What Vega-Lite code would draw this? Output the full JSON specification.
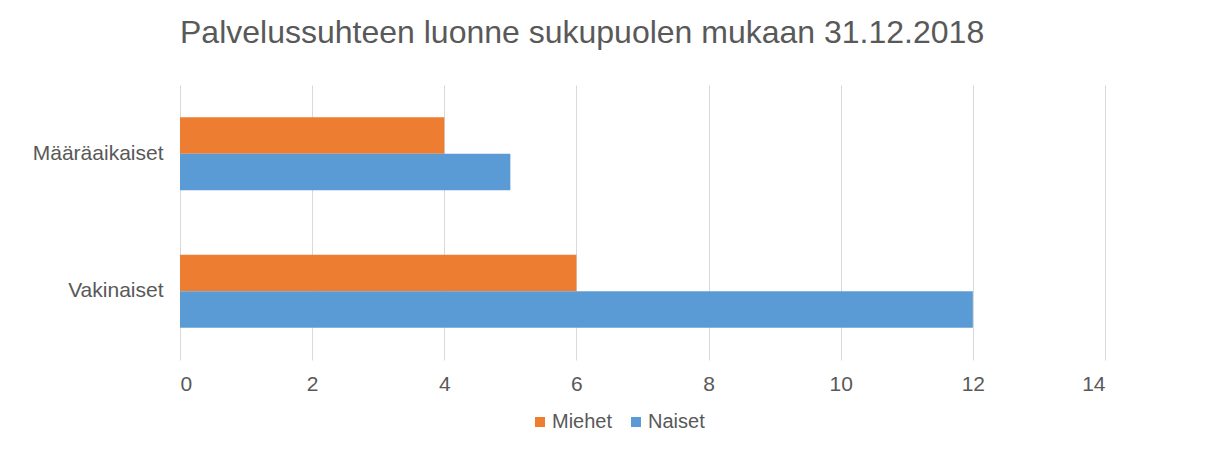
{
  "$schema": "https://vega.github.io/schema/vega-lite/v6.json",
  "width": 925,
  "height": 275,
  "autosize": "none",
  "padding": {"left": 180, "top": 85, "right": 127, "bottom": 90},
  "background": "white",
  "title": {
    "text": "Palvelussuhteen luonne sukupuolen mukaan 31.12.2018",
    "anchor": "start",
    "frame": "group",
    "fontSize": 32,
    "font": "Liberation Sans",
    "fontWeight": "normal",
    "color": "#595959",
    "offset": 35
  },
  "data": {
    "values": [
      {"luonne": "Määräaikaiset", "sukupuoli": "Miehet", "lkm": 4},
      {"luonne": "Määräaikaiset", "sukupuoli": "Naiset", "lkm": 5},
      {"luonne": "Vakinaiset", "sukupuoli": "Miehet", "lkm": 6},
      {"luonne": "Vakinaiset", "sukupuoli": "Naiset", "lkm": 12}
    ]
  },
  "mark": {"type": "bar"},
  "encoding": {
    "y": {
      "field": "luonne",
      "type": "nominal",
      "sort": ["Määräaikaiset", "Vakinaiset"],
      "scale": {"paddingInner": 0.47, "paddingOuter": 0.235},
      "axis": {
        "title": null,
        "ticks": false,
        "domain": false,
        "labelPadding": 17,
        "labelFontSize": 21,
        "labelFont": "Liberation Sans",
        "labelColor": "#595959"
      }
    },
    "yOffset": {
      "field": "sukupuoli",
      "type": "nominal",
      "sort": ["Miehet", "Naiset"],
      "scale": {"paddingInner": 0, "paddingOuter": 0}
    },
    "x": {
      "field": "lkm",
      "type": "quantitative",
      "scale": {"domain": [0, 14], "nice": false},
      "axis": {
        "title": null,
        "values": [0, 2, 4, 6, 8, 10, 12, 14],
        "ticks": false,
        "domain": false,
        "grid": true,
        "gridColor": "#d9d9d9",
        "gridWidth": 1,
        "labelPadding": 13,
        "labelFontSize": 21,
        "labelFont": "Liberation Sans",
        "labelColor": "#595959"
      }
    },
    "color": {
      "field": "sukupuoli",
      "type": "nominal",
      "scale": {"domain": ["Miehet", "Naiset"], "range": ["#ED7D31", "#5B9BD5"]},
      "legend": {
        "title": null,
        "orient": "none",
        "direction": "horizontal",
        "legendX": 350,
        "legendY": 327,
        "symbolType": "square",
        "symbolSize": 100,
        "symbolStrokeWidth": 0,
        "labelFontSize": 20,
        "labelFont": "Liberation Sans",
        "labelColor": "#595959",
        "labelOffset": 2,
        "columnPadding": 13,
        "padding": 0
      }
    }
  },
  "config": {"view": {"stroke": null}}
}
